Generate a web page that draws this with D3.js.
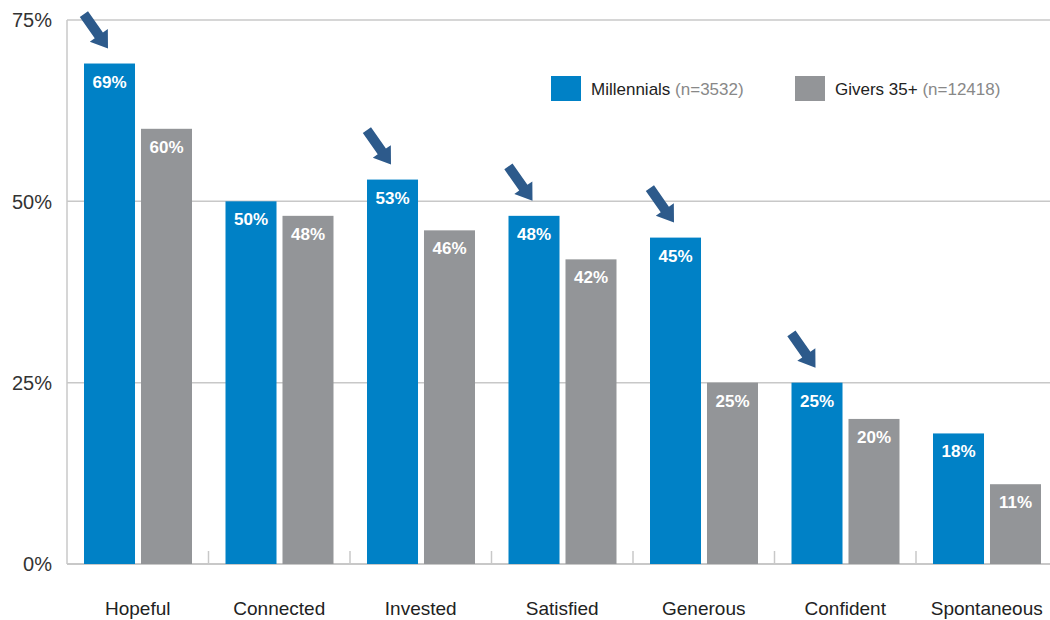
<!DOCTYPE html>
<html><head><meta charset="utf-8">
<script src="https://cdn.jsdelivr.net/npm/d3@7"></script>
<style>body{margin:0;background:#fff}svg{display:block}text{font-family:"Liberation Sans",Arial,Helvetica,sans-serif}</style>
</head><body><svg id="c" width="1050" height="620"></svg>
<script>
const categories = ["Hopeful","Connected","Invested","Satisfied","Generous","Confident","Spontaneous"];
const millennials = [69,50,53,48,45,25,18];
const givers = [60,48,46,42,25,20,11];
const arrowed = ["Hopeful","Invested","Satisfied","Generous","Confident"];
const yTicks = [0,25,50,75];
const seriesNames = ["Millennials","Givers 35+"];
const seriesNotes = ["(n=3532)","(n=12418)"];
const colors = ["#0081c6","#939598"];

const svg = d3.select("#c");
const x0 = 67, x1 = 1057.5, yTop = 20, yBot = 564;
const x = d3.scaleBand().domain(categories).range([x0,x1]).paddingInner(0).paddingOuter(0);
const sub = d3.scaleBand().domain([0,1]).range([17,125]).paddingInner(0.105).paddingOuter(0);
const y = d3.scaleLinear().domain([0,75]).range([yBot,yTop]);

// gridlines
svg.append("g").selectAll("line").data(yTicks).join("line")
  .attr("x1",x0).attr("x2",1050).attr("y1",d=>y(d)).attr("y2",d=>y(d))
  .attr("stroke","#c8c8c8").attr("stroke-width",d=>d===0?2:1.5);
// left axis line
svg.append("line").attr("x1",x0).attr("x2",x0).attr("y1",yTop).attr("y2",yBot)
  .attr("stroke","#c8c8c8").attr("stroke-width",1.5);
// category ticks
svg.append("g").selectAll("line").data(categories.slice(1)).join("line")
  .attr("x1",d=>x(d)).attr("x2",d=>x(d)).attr("y1",yBot-13).attr("y2",yBot)
  .attr("stroke","#c8c8c8").attr("stroke-width",1.5);

// y tick labels
svg.append("g").selectAll("text").data(yTicks).join("text")
  .attr("x",52).attr("y",d=>y(d)).attr("dy","0.36em").attr("text-anchor","end")
  .attr("font-size",20).attr("fill","#333").text(d=>d+"%");

// bars
const data = categories.map((c,i)=>({c, vals:[millennials[i],givers[i]]}));
const g = svg.append("g").selectAll("g").data(data).join("g").attr("transform",d=>`translate(${x(d.c)},0)`);
g.selectAll("rect").data(d=>d.vals.map((v,k)=>({v,k}))).join("rect")
  .attr("x",d=>sub(d.k)).attr("width",sub.bandwidth())
  .attr("y",d=>y(d.v)).attr("height",d=>yBot-y(d.v)).attr("fill",d=>colors[d.k]);
g.selectAll("text.v").data(d=>d.vals.map((v,k)=>({v,k}))).join("text").attr("class","v")
  .attr("x",d=>sub(d.k)+sub.bandwidth()/2).attr("y",d=>y(d.v)+24)
  .attr("text-anchor","middle").attr("font-size",17).attr("font-weight","bold").attr("fill","#fff")
  .text(d=>d.v+"%");

// category labels
svg.append("g").selectAll("text").data(categories).join("text")
  .attr("x",d=>x(d)+x.bandwidth()/2).attr("y",615).attr("text-anchor","middle")
  .attr("font-size",19).attr("fill","#222").text(d=>d);

// arrows
const arrowPath = "M-5,0 L5,0 L5,26 L11,26 L0,42 L-11,26 L-5,26 Z";
svg.append("g").selectAll("path").data(data.filter(d=>arrowed.includes(d.c))).join("path")
  .attr("d",arrowPath).attr("fill","#2d5a8b")
  .attr("transform",d=>{const bx=x(d.c)+sub(0); const ty=y(d.vals[0]); return `translate(${bx+24},${ty-15}) rotate(-35) translate(0,-42)`;});

// legend
const lx = [551,795];
const lg = svg.append("g").selectAll("g").data(seriesNames).join("g").attr("transform",(d,i)=>`translate(${lx[i]},76)`);
lg.append("rect").attr("width",30).attr("height",25).attr("fill",(d,i)=>colors[i]);
const lt = lg.append("text").attr("x",40).attr("y",19).attr("font-size",17).attr("fill","#222");
lt.append("tspan").text(d=>d+" ");
lt.append("tspan").attr("fill","#888").text((d,i)=>seriesNotes[i]);
</script></body></html>
